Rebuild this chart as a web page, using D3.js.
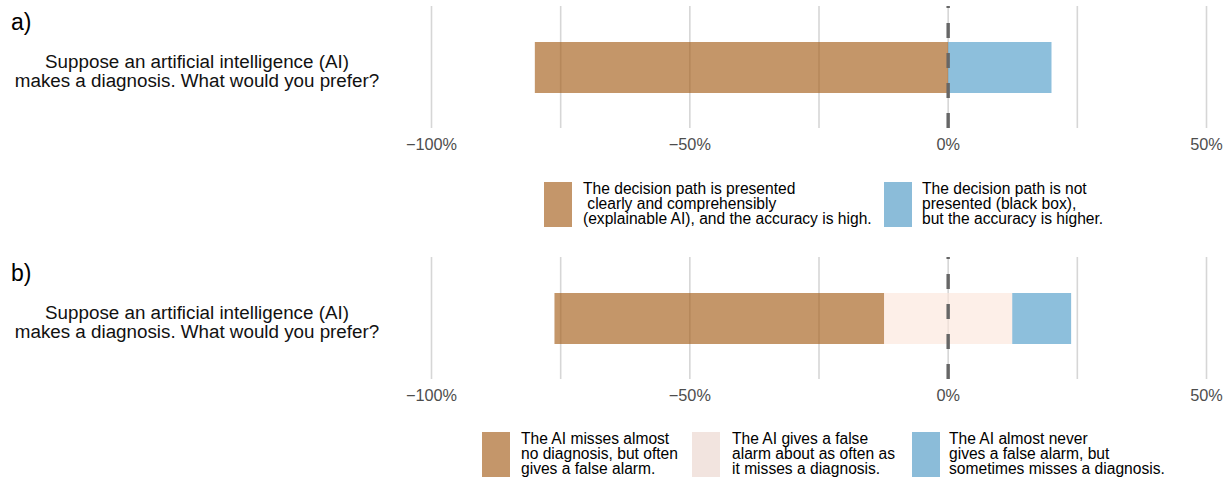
<!DOCTYPE html>
<html>
<head>
<meta charset="utf-8">
<script src="https://cdn.jsdelivr.net/npm/d3@7"></script>
<style>
  body { margin: 0; background: #fff; }
  text { font-family: "Liberation Sans", Arial, Helvetica, sans-serif; }
</style>
</head>
<body>
<div id="chart"></div>
<script>
// Diverging likert bars, two panels
const panelLabels = ["a)", "b)"];
const questionLines = ["Suppose an artificial intelligence (AI)", "makes a diagnosis. What would you prefer?"];
const ticks = [-100, -50, 0, 50];
const gridTicks = [-100, -75, -50, -25, 0, 25, 50];

// panel a: [left, right]
const aLegend = [
  ["The decision path is presented", " clearly and comprehensibly", "(explainable AI), and the accuracy is high."],
  ["The decision path is not", "presented (black box),", "but the accuracy is higher."]
];
const aValues = [80, 20];

// panel b: [left, neutral, right]
const bLegend = [
  ["The AI misses almost", "no diagnosis, but often", "gives a false alarm."],
  ["The AI gives a false", "alarm about as often as", "it misses a diagnosis."],
  ["The AI almost never", "gives a false alarm, but", "sometimes misses a diagnosis."]
];
const bValues = [63.8, 24.8, 11.4];

const W = 1231, H = 484;
const barColors = { left: "#a45e18", neutral: "#fce6dc", right: "#509dc9" };
const keyColors = { left: "#c4966a", neutral: "#f2e4df", right: "#8bbcd9" };

const svg = d3.select("#chart").append("svg").attr("width", W).attr("height", H);
const x = d3.scaleLinear().domain([-100, 50]).range([431.5, 1206.5]);

function segments(values, hasNeutral) {
  // turn shares into [start,end] around zero
  if (!hasNeutral) {
    return [
      { k: "left", x0: -values[0], x1: 0 },
      { k: "right", x0: 0, x1: values[1] }
    ];
  }
  const half = values[1] / 2;
  return [
    { k: "left", x0: -half - values[0], x1: -half },
    { k: "neutral", x0: -half, x1: half },
    { k: "right", x0: half, x1: half + values[2] }
  ];
}

function panel(off, label, values, hasNeutral, legend, keyX, textX, keyY) {
  const g = svg.append("g").attr("transform", `translate(0,${off})`);
  const top = 6, bottom = 128;

  g.append("text").attr("x", 11).attr("y", 30).attr("font-size", 23).attr("fill", "#000").text(label);
  g.selectAll("text.q").data(questionLines).join("text")
    .attr("class", "q")
    .attr("x", 197).attr("y", (d, i) => 68 + i * 19)
    .attr("text-anchor", "middle").attr("font-size", 18.8).attr("fill", "#111")
    .text(d => d);

  // grid
  g.selectAll("line.grid").data(gridTicks).join("line")
    .attr("class", "grid")
    .attr("x1", d => x(d)).attr("x2", d => x(d))
    .attr("y1", top).attr("y2", bottom)
    .attr("stroke", "#d6d6d6").attr("stroke-width", 1.6);

  // bars
  const segs = segments(values, hasNeutral);
  g.selectAll("rect.bar").data(segs).join("rect")
    .attr("class", "bar")
    .attr("x", d => x(d.x0)).attr("width", d => x(d.x1) - x(d.x0))
    .attr("y", 42).attr("height", 51)
    .attr("fill", d => barColors[d.k]).attr("fill-opacity", 0.65);

  // zero line
  g.append("line")
    .attr("x1", x(0)).attr("x2", x(0)).attr("y1", bottom).attr("y2", top)
    .attr("stroke", "#666").attr("stroke-width", 3.4).attr("stroke-dasharray", "15,15");

  // tick labels
  g.selectAll("text.tick").data(ticks).join("text")
    .attr("class", "tick")
    .attr("x", d => x(d)).attr("y", 150)
    .attr("text-anchor", "middle").attr("font-size", 16.3).attr("fill", "#4d4d4d")
    .text(d => (d < 0 ? "\u2212" + Math.abs(d) : d) + "%");

  // legend
  const keys = hasNeutral ? ["left", "neutral", "right"] : ["left", "right"];
  keys.forEach((k, i) => {
    g.append("rect")
      .attr("x", keyX[i]).attr("y", keyY).attr("width", 28).attr("height", 45)
      .attr("fill", keyColors[k]);
    const t = g.append("text").attr("font-size", 15.6).attr("fill", "#000")
      .attr("xml:space", "preserve").style("white-space", "pre");
    legend[i].forEach((line, j) => {
      t.append("tspan").attr("x", textX[i]).attr("y", keyY + 12 + j * 15.2).text(line);
    });
  });
}

panel(0, panelLabels[0], aValues, false, aLegend, [544, 884], [583, 922], 182);
panel(251, panelLabels[1], bValues, true, bLegend, [482, 692, 912], [521, 732, 949], 181);
</script>
</body>
</html>
